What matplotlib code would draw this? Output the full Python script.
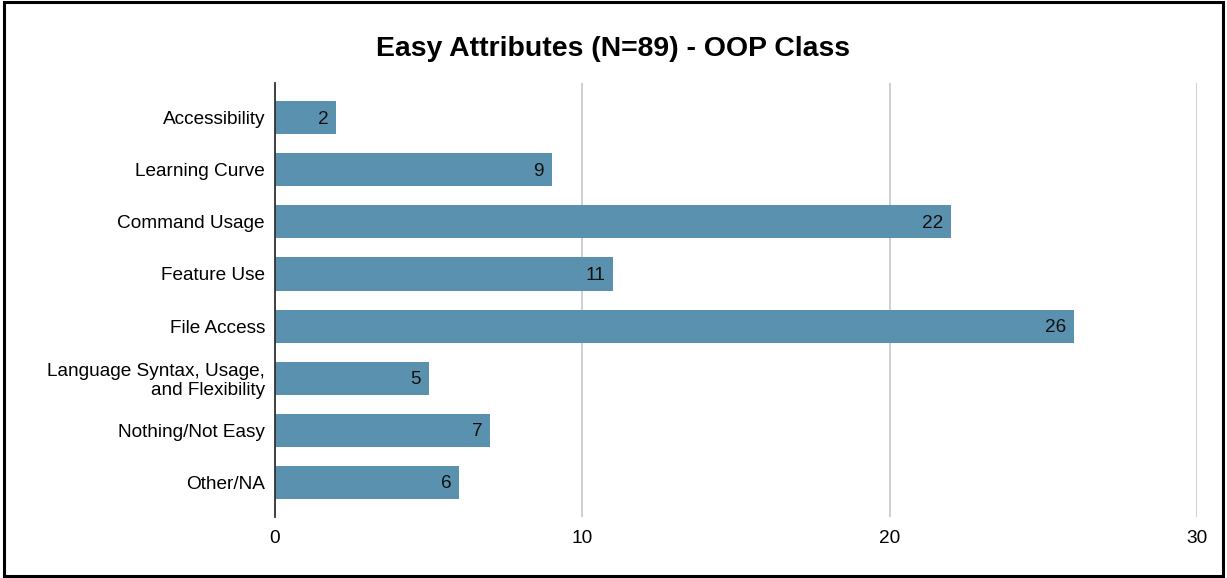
import matplotlib.pyplot as plt
from matplotlib.patches import Rectangle

categories = [
    "Accessibility",
    "Learning Curve",
    "Command Usage",
    "Feature Use",
    "File Access",
    "Language Syntax, Usage,\nand Flexibility",
    "Nothing/Not Easy",
    "Other/NA",
]
counts = [2, 9, 22, 11, 26, 5, 7, 6]
x_ticks = [0, 10, 20, 30]

plt.rcParams["font.family"] = ["Liberation Sans", "DejaVu Sans"]

fig = plt.figure(figsize=(12.27, 5.78), dpi=100)
ax = fig.add_axes([0.2241, 0.1055, 0.7515, 0.7509])

bar_color = "#5a91ae"
ypos = list(range(len(categories)))
ax.barh(ypos, counts, height=0.635, color=bar_color, zorder=3)

for y, v in zip(ypos, counts):
    ax.annotate(str(v), xy=(v, y), xytext=(-5.5, -1), textcoords="offset points",
                ha="right", va="center", fontsize=13.7, color="#111111", zorder=4)

ax.set_xlim(0, 30)
ax.set_ylim(7.67, -0.67)
ax.set_yticks(ypos)
ax.set_yticklabels(categories, fontsize=13.7, linespacing=1.15)
ax.set_xticks(x_ticks)
ax.set_xticklabels([str(t) for t in x_ticks], fontsize=13.7)
ax.tick_params(axis="y", length=0, pad=7.2)
ax.tick_params(axis="x", length=0, pad=9)

ax.grid(axis="x", color="#cccccc", linewidth=1.3, zorder=0)
for side in ["top", "right", "bottom"]:
    ax.spines[side].set_visible(False)
ax.spines["left"].set_color("#333333")
ax.spines["left"].set_linewidth(1.3)
ax.spines["left"].set_zorder(5)

fig.text(0.5, 0.915, "Easy Attributes (N=89) - OOP Class", ha="center", va="center",
         fontsize=20.4, fontweight="bold", color="#000000")

# thin black frame around the whole chart
fig.patches.append(Rectangle((0.003, 0.004), 0.994, 0.992, transform=fig.transFigure,
                             fill=False, edgecolor="black", linewidth=2.2))

fig.savefig("out.png", dpi=100)
